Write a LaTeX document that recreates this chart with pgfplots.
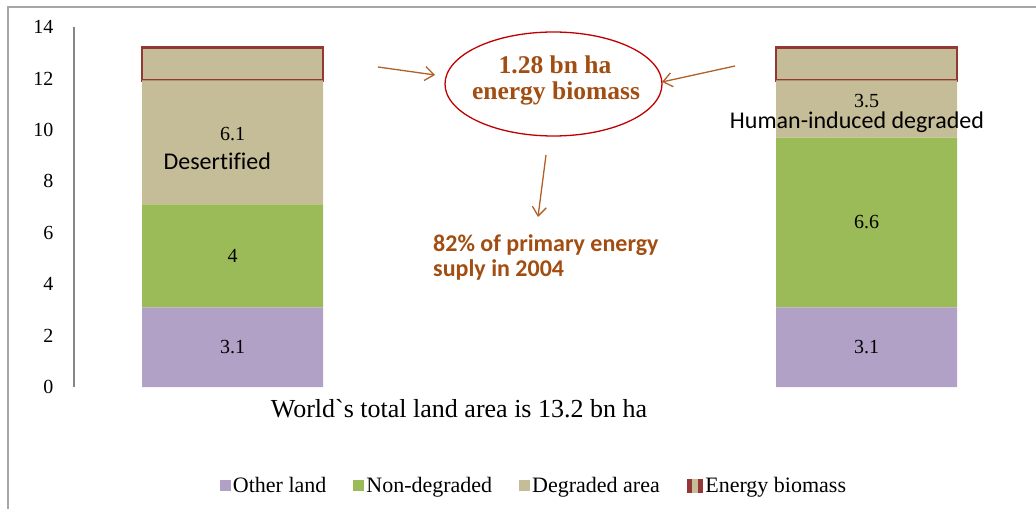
\documentclass[border=0pt]{standalone}
\usepackage{fontspec}
\setmainfont{Liberation Serif}
\newfontfamily\calfont[Ligatures=NoCommon]{Carlito}
\newfontfamily\titlefont[Ligatures=TeXOff]{Liberation Serif}
\usepackage{pgfplots}
\pgfplotsset{compat=1.18}
\usetikzlibrary{arrows.meta}
\definecolor{oth}{HTML}{B2A1C7}
\definecolor{nond}{HTML}{9BBB59}
\definecolor{degr}{HTML}{C4BD97}
\definecolor{ebred}{HTML}{953735}
\definecolor{ellred}{HTML}{C00000}
\definecolor{brn}{HTML}{A24E12}
\definecolor{arr}{HTML}{B0602A}
\definecolor{axgray}{HTML}{868686}
\definecolor{frgray}{HTML}{A6A6A6}
\newcommand\vl{\fontsize{20bp}{23bp}\selectfont}
\pgfplotsset{sqleg/.style={legend image code/.code={\fill[##1] (0bp,-5.5bp) rectangle (11bp,5.5bp);}}}
\begin{document}
\begin{tikzpicture}
\path[use as bounding box] (0,0) rectangle (1036bp,509bp);
\draw[frgray, line width=2bp] (8bp,0) -- (8bp,502bp) -- (1036bp,502bp);
\begin{axis}[
  at={(74bp,122bp)}, anchor=south west,
  scale only axis, width=951bp, height=360bp,
  xmin=-0.25, xmax=1.25, ymin=0, ymax=14,
  ytick={0,2,...,14}, xtick=\empty,
  axis x line=none, axis y line=left,
  y axis line style={draw=axgray, line width=1.5bp, -},
  ytick style={draw=none},
  /pgf/number format/assume math mode=true,
  yticklabel style={font=\vl, anchor=east, xshift=-15bp},
  ybar stacked, bar width=181bp,
  clip=false,
  legend columns=4,
  legend style={at={(0.4837,-0.275)}, anchor=center, draw=none, fill=none,
    font=\fontsize{22bp}{25bp}\selectfont,
    cells={anchor=west, inner sep=2.5bp},
    /tikz/every even column/.append style={column sep=25bp}},
]
\addplot[fill=oth, draw=none, sqleg] coordinates {(0,3.1) (1,3.1)};
\addlegendentry{Other land}
\addplot[fill=nond, draw=none, sqleg] coordinates {(0,4) (1,6.6)};
\addlegendentry{Non-degraded}
\addplot[fill=degr, draw=none, sqleg] coordinates {(0,4.82) (1,2.22)};
\addlegendentry{Degraded area}
\addplot[fill=degr, draw=ebred, line width=2.5bp,
  legend image code/.code={\fill[degr] (0bp,-6bp) rectangle (14bp,6bp);
    \fill[ebred] (0bp,-6bp) rectangle (3bp,6bp);
    \fill[ebred] (11bp,-6bp) rectangle (14bp,6bp);}] coordinates {(0,1.28) (1,1.28)};
\addlegendentry{Energy biomass}
\coordinate (a1) at (axis cs:0,9.84);
\coordinate (a2) at (axis cs:0,5.1);
\coordinate (a3) at (axis cs:0,1.55);
\coordinate (b3) at (axis cs:1,1.55);
\coordinate (b2) at (axis cs:1,6.4);
\coordinate (b1) at (axis cs:1,11.12);
\coordinate (dl) at (axis cs:-0.024,8.44);
\coordinate (hl) at (axis cs:0.985,10.07);
\end{axis}
\node[font=\vl] at (a1) {6.1};
\node[font=\vl] at (a2) {4};
\node[font=\vl] at (a3) {3.1};
\node[font=\vl] at (b3) {3.1};
\node[font=\vl] at (b2) {6.6};
\node[font=\vl] at (b1) {3.5};
\node[font=\calfont\fontsize{24bp}{28bp}\selectfont, anchor=base, inner sep=0] at (dl) {Desertified};
\node[font=\calfont\fontsize{24bp}{28bp}\selectfont, anchor=base, inner sep=0] at (hl) {Human-induced degraded};
\begin{scope}[shift={(0bp,509bp)}, x=1bp, y=-1bp]
\draw[ellred, line width=1.3bp] (553.5,84) ellipse [x radius=108.5bp, y radius=52bp];
\node[font=\bfseries\fontsize{25.5bp}{28bp}\selectfont, text=brn, anchor=base, inner sep=0] at (555,74) {1.28 bn ha};
\node[font=\bfseries\fontsize{25.5bp}{28bp}\selectfont, text=brn, anchor=base, inner sep=0] at (556,100) {energy biomass};
\draw[arr, line width=1.3bp, -{Straight Barb[length=9bp,width=14bp]}] (378,67) -- (435,75);
\draw[arr, line width=1.3bp, -{Straight Barb[length=9bp,width=14bp]}] (735,66) -- (662,82);
\draw[arr, line width=1.3bp, -{Straight Barb[length=9bp,width=14bp]}] (546,155) -- (538,217);
\node[font=\calfont\bfseries\fontsize{24bp}{27bp}\selectfont, text=brn, anchor=base west, inner sep=0] at (433,252) {82\% of primary energy};
\node[font=\calfont\bfseries\fontsize{24bp}{27bp}\selectfont, text=brn, anchor=base west, inner sep=0] at (433,277) {suply in 2004};
\node[font=\titlefont\fontsize{26bp}{29bp}\selectfont, anchor=base, inner sep=0] at (459,418) {World`s total land area is 13.2 bn ha};
\end{scope}
\end{tikzpicture}
\end{document}
